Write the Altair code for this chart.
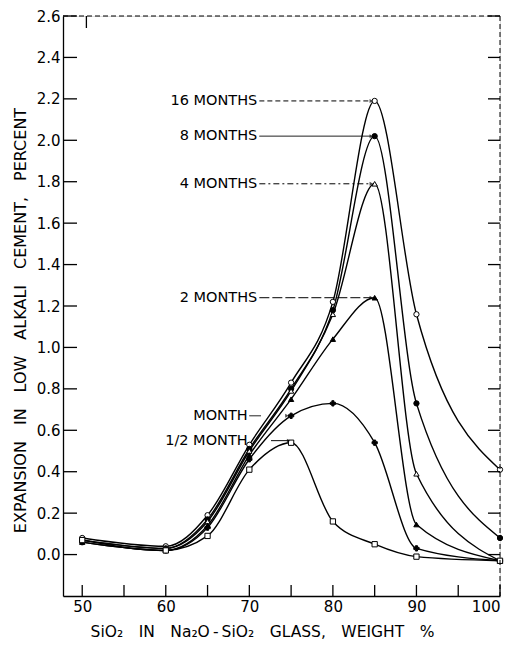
import altair as alt
import pandas as pd

# ---- data ----
silica = [50, 60, 65, 70, 75, 80, 85, 90, 100]
exp_16m = [0.08, 0.04, 0.19, 0.53, 0.83, 1.22, 2.19, 1.16, 0.41]
exp_8m = [0.07, 0.03, 0.17, 0.51, 0.80, 1.18, 2.02, 0.73, 0.08]
exp_4m = [0.07, 0.03, 0.16, 0.50, 0.79, 1.16, 1.79, 0.39, -0.03]
exp_2m = [0.06, 0.02, 0.14, 0.48, 0.75, 1.04, 1.24, 0.145, -0.03]
exp_1m = [0.06, 0.02, 0.13, 0.46, 0.67, 0.73, 0.54, 0.03, -0.03]
exp_half = [0.07, 0.02, 0.09, 0.41, 0.54, 0.16, 0.05, -0.01, -0.03]

series_names = ["16 MONTHS", "8 MONTHS", "4 MONTHS", "2 MONTHS", "MONTH", "1/2 MONTH"]
series_vals = [exp_16m, exp_8m, exp_4m, exp_2m, exp_1m, exp_half]
marker_shapes = ["circle", "circle", "triangle-up", "triangle-up", "cross", "square"]
marker_fills = ["white", "black", "white", "black", "black", "white"]
marker_sizes = [28, 28, 22, 14, 10, 24]

# label positions and leader lines
label_x = [70.95, 70.95, 70.95, 70.95, 69.8, 69.8]
label_y = [2.19, 2.02, 1.79, 1.24, 0.67, 0.55]
leader_x1 = [71.2, 71.2, 71.2, 71.2, 70.0, 72.6]
leader_x2 = [84.5, 84.5, 84.5, 84.5, 71.4, 74.7]
leader_dash = ["a", "b", "c", "d", "b", "b"]
arrow_x = [84.6, 84.6, 84.6, 84.6, 74.5, 74.7]

x_ticks = [50, 55, 60, 65, 70, 75, 80, 85, 90, 95, 100]
x_labels = [50, 60, 70, 80, 90, 100]
y_ticks = [0.0, 0.2, 0.4, 0.6, 0.8, 1.0, 1.2, 1.4, 1.6, 1.8, 2.0, 2.2, 2.4, 2.6]

rows = []
for n, vals in zip(series_names, series_vals):
    for xv, yv in zip(silica, vals):
        rows.append({"x": xv, "y": yv, "series": n})
df = pd.DataFrame(rows)

lab = pd.DataFrame({"x": label_x, "y": label_y, "text": series_names,
                    "x1": leader_x1, "x2": leader_x2, "dash": leader_dash,
                    "ax": arrow_x})

W, H = 437, 580
FONT = "DejaVu Sans"
xs = alt.Scale(domain=[47.7, 100], nice=False, zero=False)
ys = alt.Scale(domain=[-0.2, 2.6], nice=False, zero=False)

G = "\u2003"
x_axis = alt.Axis(values=x_labels, ticks=False, grid=False, domainColor="black", domainWidth=1.3,
                  labelFontSize=15, labelFont=FONT, labelColor="black", labelPadding=3,
                  title="SiO\u2082" + G + "IN" + G + "Na\u2082O\u2009-\u2009SiO\u2082" + G + "GLASS," + G + "WEIGHT" + G + "%",
                  titleFont=FONT, titleFontSize=15.5, titleFontWeight="normal",
                  titleColor="black", titlePadding=10, titleX=199, titleAlign="center")
y_axis = alt.Axis(values=y_ticks, format=".1f", ticks=False, grid=False, domainColor="black", domainWidth=1.3,
                  labelFontSize=15, labelFont=FONT, labelColor="black", labelPadding=3,
                  title="EXPANSION" + G + "IN" + G + "LOW" + G + "ALKALI" + G + "CEMENT," + G + "PERCENT",
                  titleFont=FONT, titleFontSize=16, titleFontWeight="normal",
                  titleColor="black", titlePadding=8, titleY=304)


def X(f="x"):
    return alt.X(f, type="quantitative", scale=xs, axis=x_axis)


def Y(f="y"):
    return alt.Y(f, type="quantitative", scale=ys, axis=y_axis)


lines = alt.Chart(df).mark_line(interpolate="monotone", color="black", strokeWidth=1.4).encode(
    x=X(), y=Y(), detail="series:N")

points = alt.Chart(df).mark_point(filled=True, stroke="black", strokeWidth=1, opacity=1).encode(
    x=X(), y=Y(),
    shape=alt.Shape("series:N", scale=alt.Scale(domain=series_names, range=marker_shapes), legend=None),
    fill=alt.Fill("series:N", scale=alt.Scale(domain=series_names, range=marker_fills), legend=None),
    size=alt.Size("series:N", scale=alt.Scale(domain=series_names, range=marker_sizes), legend=None),
)

texts = alt.Chart(lab).mark_text(align="right", baseline="middle", fontSize=14.5, font=FONT,
                                  color="black").encode(x=X(), y=Y(), text="text:N")

leaders = alt.Chart(lab).mark_rule(color="black", strokeWidth=1).encode(
    x=X("x1"), x2="x2", y=Y(),
    strokeDash=alt.StrokeDash("dash:N", scale=alt.Scale(domain=["a", "b", "c", "d"],
                                                        range=[[5, 3], [1, 0], [6, 3, 2, 3], [10, 3]]),
                              legend=None))

arrows = alt.Chart(lab).mark_point(shape="triangle-right", filled=True, color="black", size=16).encode(
    x=X("ax"), y=Y())

ytick_df = pd.DataFrame({"y": y_ticks})
xtick_df = pd.DataFrame({"x": x_ticks})

left_ticks = alt.Chart(ytick_df).mark_rule(color="black", strokeWidth=1.3).encode(
    y=Y(), x=alt.value(0), x2=alt.value(14))
right_ticks = alt.Chart(ytick_df).mark_rule(color="black", strokeWidth=1.3).encode(
    y=Y(), x=alt.value(W), x2=alt.value(W - 12))
bottom_ticks = alt.Chart(xtick_df).mark_rule(color="black", strokeWidth=1.3).encode(
    x=X(), y=alt.value(H), y2=alt.value(H - 11))
top_tick = alt.Chart(pd.DataFrame({"x": [50.5]})).mark_rule(color="black", strokeWidth=1.3).encode(
    x=X(), y=alt.value(0), y2=alt.value(12))

top_border = alt.Chart(pd.DataFrame({"x": [0]})).mark_rule(color="black", strokeWidth=1, strokeDash=[5, 3]).encode(
    x=alt.value(0), x2=alt.value(W), y=alt.value(0))
right_border = alt.Chart(pd.DataFrame({"x": [0]})).mark_rule(color="black", strokeWidth=1, strokeDash=[5, 3]).encode(
    x=alt.value(W), y=alt.value(0), y2=alt.value(H))

chart = alt.layer(
    lines, points, leaders, arrows, texts,
    left_ticks, right_ticks, bottom_ticks, top_tick, top_border, right_border
).properties(
    width=W, height=H,
    autosize=alt.AutoSizeParams(type="none"),
    padding={"left": 55, "top": 8, "right": 7, "bottom": 46},
).configure_view(stroke=None).configure(background="white")

chart.save("out.html", embed_options={"renderer": "svg", "actions": False})
